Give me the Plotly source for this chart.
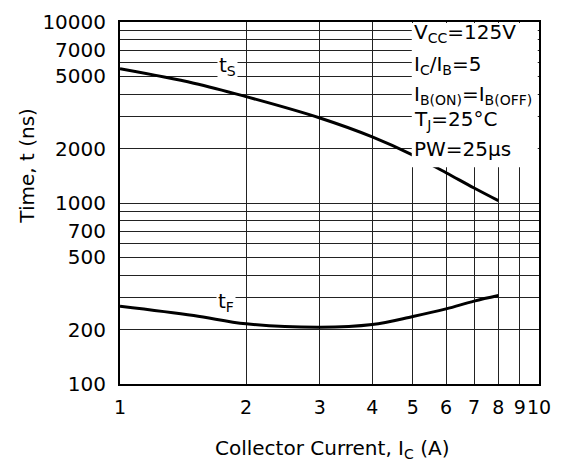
import math
import plotly.graph_objects as go

# ---- data ----
current_a = [1, 1.5, 2, 3, 4, 5, 6, 7, 8]
ts_ns = [5510, 4590, 3870, 2950, 2320, 1840, 1470, 1210, 1030]
tf_ns = [269, 239, 215, 206, 213, 236, 260, 287, 308]

x_tick_vals = [1, 2, 3, 4, 5, 6, 7, 8, 9, 10]
x_tick_text = ["1", "2", "3", "4", "5", "6", "7", "8", "9", "10"]
y_tick_labels = [100, 200, 500, 700, 1000, 2000, 5000, 7000, 10000]

conditions = [
    "V<sub>CC</sub>=125V",
    "I<sub>C</sub>/I<sub>B</sub>=5",
    "I<sub>B(ON)</sub>=I<sub>B(OFF)</sub>",
    "T<sub>J</sub>=25°C",
    "PW=25µs",
]

FONT = "DejaVu Sans"

# gridlines at every decade digit
y_grid = [m * 10 ** e for e in (2, 3) for m in range(1, 10)] + [10000]
y_text = [str(v) if v in y_tick_labels else "" for v in y_grid]

fig = go.Figure()
fig.add_trace(go.Scatter(x=current_a, y=ts_ns, mode="lines",
                         line=dict(color="black", width=3, shape="spline"),
                         showlegend=False))
fig.add_trace(go.Scatter(x=current_a, y=tf_ns, mode="lines",
                         line=dict(color="black", width=3, shape="spline"),
                         showlegend=False))

# curve labels (annotations on log axes use log10 coords)
fig.add_annotation(x=math.log10(1.81), y=math.log10(5700), text="t<sub>S</sub>",
                   showarrow=False, bgcolor="white", borderpad=1,
                   font=dict(family=FONT, size=20, color="black"))
fig.add_annotation(x=math.log10(1.79), y=math.log10(285), text="t<sub>F</sub>",
                   showarrow=False, bgcolor="white", borderpad=1,
                   font=dict(family=FONT, size=20, color="black"))

# white condition box in the upper right
box_left = math.log10(4.97)          # paper x (x range is log 1..10)
box_bottom = (math.log10(1578) - 2) / 2  # paper y (y range is log 100..10000)
fig.add_shape(type="rect", xref="paper", yref="paper",
              x0=box_left, x1=0.997, y0=box_bottom, y1=0.997,
              fillcolor="white", line=dict(width=0), layer="above")

line_y = [0.969, 0.881, 0.797, 0.729, 0.649]
for txt, yy in zip(conditions, line_y):
    fig.add_annotation(xref="paper", yref="paper", x=box_left, y=yy,
                       text=txt, showarrow=False, xanchor="left", yanchor="middle",
                       font=dict(family=FONT, size=20, color="black"))

# axis titles
fig.add_annotation(xref="paper", yref="paper", x=-0.222, y=0.603,
                   text="Time, t (ns)", textangle=-90, showarrow=False,
                   xanchor="center", yanchor="middle",
                   font=dict(family=FONT, size=20, color="black"))
fig.add_annotation(xref="paper", yref="paper", x=0.505, y=-0.18,
                   text="Collector Current, I<sub>C</sub> (A)", showarrow=False,
                   xanchor="center", yanchor="middle",
                   font=dict(family=FONT, size=20, color="black"))

fig.update_xaxes(type="log", range=[0, 1], tickvals=x_tick_vals, ticktext=x_tick_text,
                 showgrid=True, gridcolor="#222", gridwidth=1,
                 showline=True, linecolor="black", linewidth=2, mirror=True,
                 ticks="", ticklabelstandoff=5, zeroline=False, tickangle=0,
                 automargin=False,
                 tickfont=dict(family=FONT, size=19, color="black"))
fig.update_yaxes(type="log", range=[2, 4], tickvals=y_grid, ticktext=y_text,
                 showgrid=True, gridcolor="#222", gridwidth=1,
                 showline=True, linecolor="black", linewidth=2, mirror=True,
                 ticks="", ticklabelstandoff=8, zeroline=False,
                 automargin=False,
                 tickfont=dict(family=FONT, size=20, color="black"))

# the page body adds an 8px offset, so margins are compensated
fig.update_layout(width=571, height=472,
                  margin=dict(l=112, r=40, t=14, b=96),
                  paper_bgcolor="white", plot_bgcolor="white",
                  font=dict(family=FONT, color="black"))

fig.write_html("out.html")
